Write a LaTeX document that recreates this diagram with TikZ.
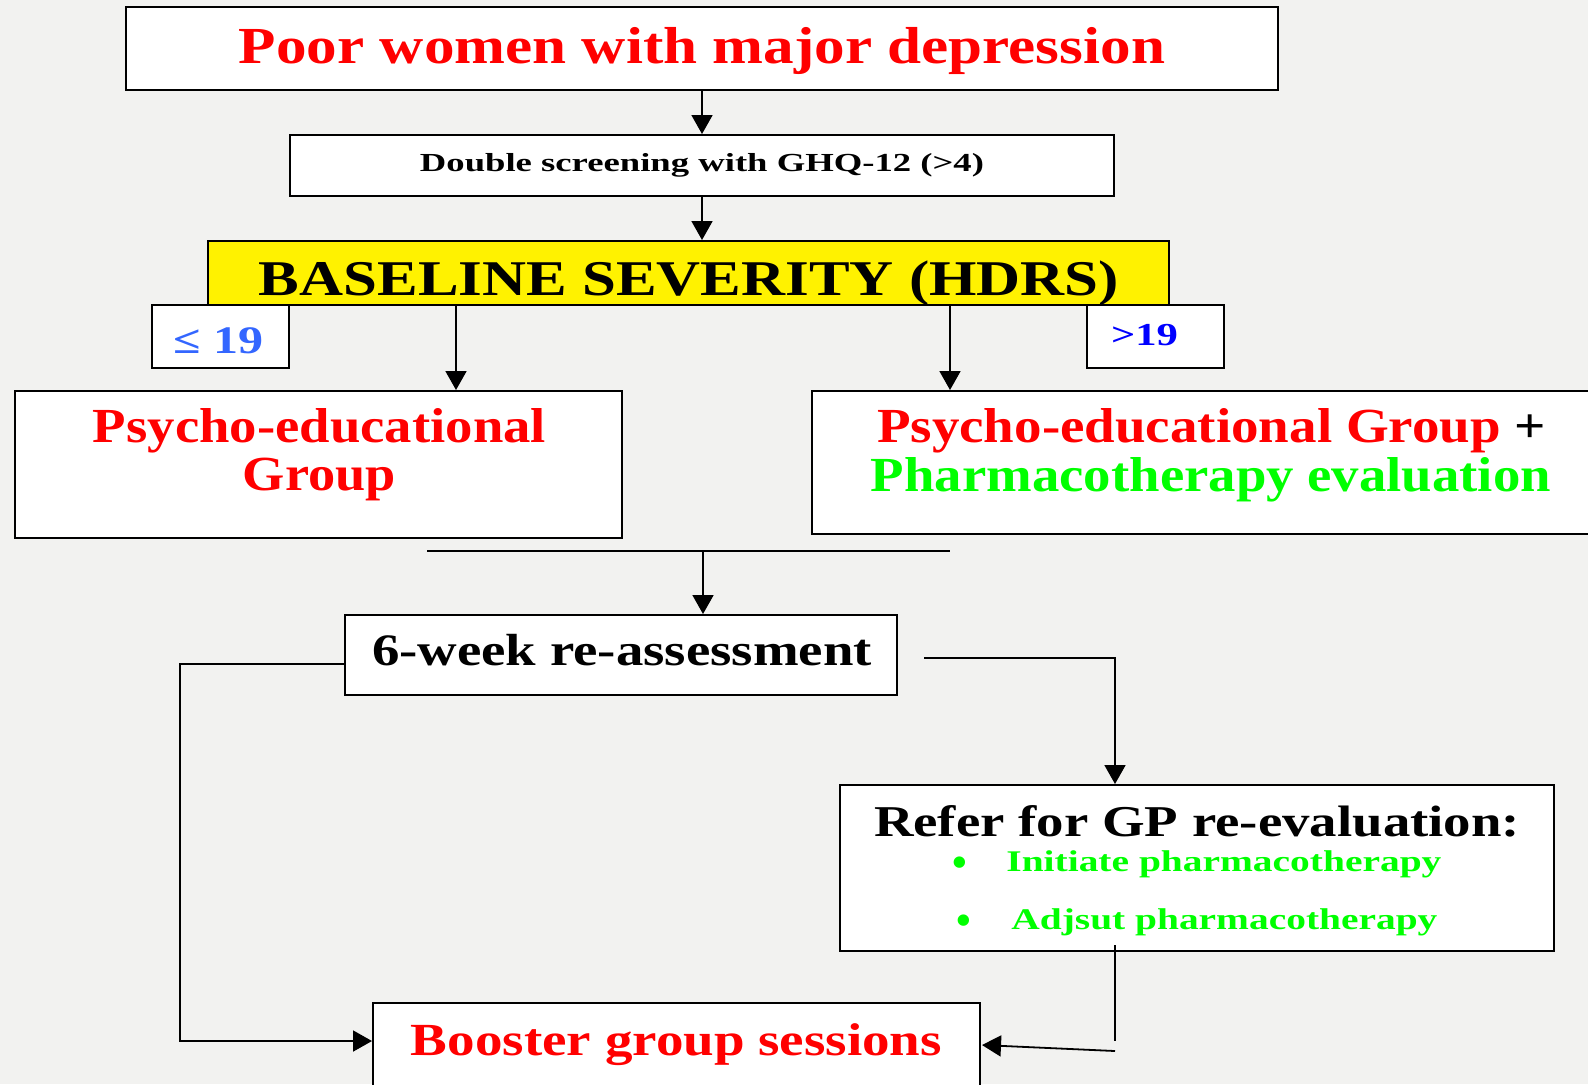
\documentclass[tikz,border=0pt]{standalone}
\usepackage{fontspec}
\setmainfont{Liberation Serif}
\usetikzlibrary{arrows.meta}
\definecolor{bg}{RGB}{242,242,240}
\definecolor{myred}{RGB}{255,0,0}
\definecolor{mygreen}{RGB}{0,255,0}
\definecolor{lightblue}{RGB}{51,102,255}
\definecolor{myblue}{RGB}{0,0,255}
\newcommand\fitw[2]{\resizebox{#1}{\height}{#2}}
\newcommand\fs[1]{\fontsize{#1}{#1}\selectfont}
\tikzset{
  box/.style={draw=black, line width=1pt, fill=white, inner sep=0pt, rectangle},
  arr/.style={-{Triangle[width=10.5pt,length=9.5pt]}, line width=0.9pt},
  ln/.style={line width=0.9pt},
  txt/.style={inner sep=0pt, anchor=base, font=\bfseries},
}
\begin{document}
\begin{tikzpicture}[x=0.5pt,y=-0.5pt]
\useasboundingbox (0,0) rectangle (1588,1084);
\clip (0,0) rectangle (1588,1084);
\fill[bg] (0,0) rectangle (1588,1084);

% boxes
\node[box, minimum width=576pt, minimum height=41.5pt] (top) at (702,48.5) {};
\node[box, minimum width=412pt, minimum height=30.5pt] (screen) at (702,165.5) {};
\node[box, fill=yellow, minimum width=480.5pt, minimum height=32pt] (base) at (688.5,273) {};
\node[box, minimum width=68.5pt, minimum height=31.5pt] (le) at (220.5,336.5) {};
\node[box, minimum width=68.5pt, minimum height=31.5pt] (gt) at (1155.5,336.5) {};
\node[box, minimum width=303.5pt, minimum height=73.5pt] (lg) at (318.5,464.5) {};
\node[box, minimum width=391.5pt, minimum height=71.5pt] (rg) at (1203.5,462.5) {};
\node[box, minimum width=276pt, minimum height=40pt] (six) at (621,655) {};
\node[box, minimum width=357pt, minimum height=83pt] (refer) at (1197,868) {};
\node[box, minimum width=303.5pt, minimum height=48.5pt] (boost) at (676.5,1051.5) {};

% texts
\node[txt, text=myred, font=\bfseries\fs{26}] (t1) at (702,63) {\fitw{463pt}{Poor women with major depression}};
\node[txt, text=black, font=\bfseries\fs{13}] (t2) at (702,171) {\fitw{282pt}{Double screening with GHQ-12 (>4)}};
\node[txt, text=black, font=\bfseries\fs{25}] (t3) at (689,295) {\fitw{430pt}{BASELINE SEVERITY (HDRS)}};
\node[txt, text=lightblue, font=\bfseries\fs{19.5}] (t4) at (219,353) {\fitw{45pt}{≤ 19}};
\node[txt, text=myblue, font=\bfseries\fs{16}] (t5) at (1144.5,345) {\fitw{33.5pt}{>19}};
\node[txt, text=myred, font=\bfseries\fs{24.5}] (t6) at (319.5,442) {\fitw{226.5pt}{Psycho-educational}};
\node[txt, text=myred, font=\bfseries\fs{24.5}] (t7) at (319.5,490) {\fitw{76.5pt}{Group}};
\node[txt, font=\bfseries\fs{24.5}] (t8) at (1211.5,442) {\fitw{334.5pt}{\textcolor{myred}{Psycho-educational Group} +}};
\node[txt, text=mygreen, font=\bfseries\fs{24.5}] (t9) at (1211,491) {\fitw{340pt}{Pharmacotherapy evaluation}};
\node[txt, text=black, font=\bfseries\fs{22.5}] (t10) at (622,665) {\fitw{250pt}{6-week re-assessment}};
\node[txt, text=black, font=\bfseries\fs{22}] (t11) at (1197,836) {\fitw{323pt}{Refer for GP re-evaluation:}};
\node[txt, text=mygreen, font=\bfseries\fs{21}] (b1) at (960,876) {\textbullet};
\node[txt, text=mygreen, font=\bfseries\fs{15}, anchor=base west] (t12) at (1006,871) {\fitw{217.5pt}{Initiate pharmacotherapy}};
\node[txt, text=mygreen, font=\bfseries\fs{21}] (b2) at (964,934) {\textbullet};
\node[txt, text=mygreen, font=\bfseries\fs{15}, anchor=base west] (t13) at (1011,929) {\fitw{213pt}{Adjsut pharmacotherapy}};
\node[txt, text=myred, font=\bfseries\fs{23}] (t14) at (676.5,1055) {\fitw{265.5pt}{Booster group sessions}};

% connectors
\draw[arr] (top.south) -- (screen.north);
\draw[arr] (screen.south) -- (screen.south |- base.north);
\coordinate (bl) at (456,305);
\coordinate (br) at (950,305);
\draw[arr] (bl) -- (bl |- lg.north);
\draw[arr] (br) -- (br |- rg.north);
\coordinate (ml) at (427,551);
\coordinate (mr) at (950,551);
\coordinate (mm) at (703,551);
\draw[ln] (ml) -- (mr);
\draw[arr] (mm) -- (mm |- six.north);
\coordinate (sl) at (345,664);
\coordinate (lc) at (180,664);
\coordinate (lb) at (180,1041);
\draw[arr] (sl) -- (lc) -- (lb) -- (lb -| boost.west);
\coordinate (sr) at (924,658);
\coordinate (rc) at (1115,658);
\draw[arr] (sr) -- (rc) -- (rc |- refer.north);
\coordinate (ra) at (1115,945);
\coordinate (rb) at (1115,1041);
\draw[ln] (ra) -- (rb);
\coordinate (rs) at (1115,1051);
\coordinate (re) at (982,1045);
\draw[arr] (rs) -- (re);
\end{tikzpicture}
\end{document}
